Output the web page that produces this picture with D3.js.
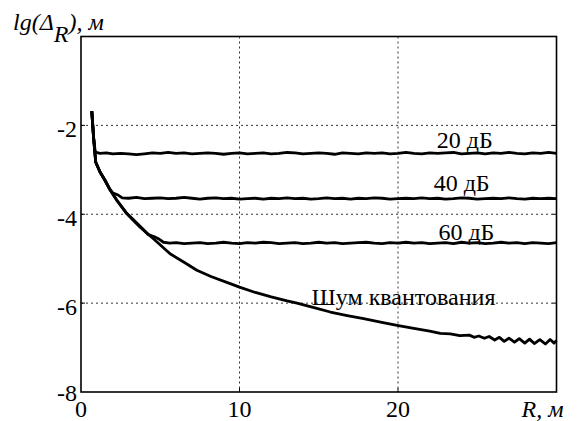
<!DOCTYPE html>
<html>
<head>
<meta charset="utf-8">
<script src="https://cdn.jsdelivr.net/npm/d3@7"></script>
</head>
<body style="margin:0">
<svg id="fig" width="579" height="421"></svg>
<script>
// ---- data ----
const xTicks = [0, 10, 20];
const yTicks = [-2, -4, -6, -8];
const xTickLabels = ["0", "10", "20"];
const yTickLabels = ["-2", "-4", "-6", "-8"];

const quantR  = [0.68, 0.8, 0.93, 1.2, 1.52, 1.83, 2.25, 2.89, 3.73, 4.57, 5.62, 6.5, 7.31, 8.2, 9.41, 10, 11, 12, 13, 13.63, 14.7, 15.73, 16.8, 17.83, 18.9, 19.94, 21, 22, 22.67, 23.3, 23.9, 24.5, 24.8, 25.1, 25.45, 25.75, 26.1, 26.4, 26.7, 27.0, 27.35, 27.65, 28.0, 28.3, 28.6, 28.95, 29.3, 29.6, 29.85, 30];
const quantLg = [-1.68, -2.3, -2.83, -3.05, -3.24, -3.45, -3.68, -3.99, -4.29, -4.55, -4.89, -5.08, -5.26, -5.4, -5.56, -5.64, -5.76, -5.86, -5.95, -6.0, -6.1, -6.2, -6.28, -6.35, -6.43, -6.5, -6.57, -6.63, -6.68, -6.69, -6.73, -6.72, -6.77, -6.74, -6.79, -6.75, -6.83, -6.77, -6.86, -6.79, -6.88, -6.8, -6.9, -6.81, -6.91, -6.82, -6.92, -6.82, -6.9, -6.84];

const db20R  = [0.68, 0.8, 0.9, 1.2, 1.6, 2.0, 2.5, 3.0, 3.5, 4.0, 4.5, 5.0, 5.5, 6.0, 6.5, 7.0, 7.5, 8.0, 8.5, 9.0, 9.5, 10.0, 10.5, 11.0, 11.5, 12.0, 12.5, 13.0, 13.5, 14.0, 14.5, 15.0, 15.5, 16.0, 16.5, 17.0, 17.5, 18.0, 18.5, 19.0, 19.5, 20.0, 20.5, 21.0, 21.5, 22.0, 22.5, 23.0, 23.5, 24.0, 24.5, 25.0, 25.5, 26.0, 26.5, 27.0, 27.5, 28.0, 28.5, 29.0, 29.5, 30.0];
const db20Lg = [-1.68, -2.3, -2.6, -2.63, -2.62, -2.64, -2.63, -2.64, -2.66, -2.64, -2.62, -2.63, -2.61, -2.63, -2.62, -2.64, -2.63, -2.62, -2.63, -2.65, -2.63, -2.62, -2.64, -2.63, -2.62, -2.64, -2.63, -2.61, -2.62, -2.64, -2.63, -2.62, -2.63, -2.65, -2.62, -2.63, -2.64, -2.62, -2.63, -2.62, -2.64, -2.63, -2.61, -2.63, -2.64, -2.62, -2.63, -2.62, -2.61, -2.64, -2.63, -2.62, -2.64, -2.62, -2.63, -2.61, -2.63, -2.64, -2.62, -2.63, -2.61, -2.63];

const db40R  = [0.68, 0.8, 0.93, 1.2, 1.52, 1.83, 2.0, 2.3, 2.6, 3.0, 3.5, 4.0, 4.5, 5.0, 5.5, 6.0, 6.5, 7.0, 7.5, 8.0, 8.5, 9.0, 9.5, 10.0, 10.5, 11.0, 11.5, 12.0, 12.5, 13.0, 13.5, 14.0, 14.5, 15.0, 15.5, 16.0, 16.5, 17.0, 17.5, 18.0, 18.5, 19.0, 19.5, 20.0, 20.5, 21.0, 21.5, 22.0, 22.5, 23.0, 23.5, 24.0, 24.5, 25.0, 25.5, 26.0, 26.5, 27.0, 27.5, 28.0, 28.5, 29.0, 29.5, 30.0];
const db40Lg = [-1.68, -2.3, -2.83, -3.05, -3.24, -3.44, -3.52, -3.56, -3.63, -3.64, -3.62, -3.65, -3.64, -3.63, -3.65, -3.64, -3.62, -3.64, -3.66, -3.64, -3.63, -3.65, -3.64, -3.66, -3.65, -3.64, -3.66, -3.64, -3.65, -3.63, -3.65, -3.64, -3.66, -3.65, -3.63, -3.65, -3.64, -3.66, -3.64, -3.65, -3.63, -3.64, -3.66, -3.65, -3.64, -3.65, -3.63, -3.65, -3.64, -3.66, -3.65, -3.63, -3.64, -3.66, -3.65, -3.64, -3.65, -3.63, -3.65, -3.66, -3.64, -3.65, -3.64, -3.65];

const db60R  = [0.68, 0.8, 0.93, 1.2, 1.52, 1.83, 2.25, 2.89, 3.73, 4.25, 4.6, 4.88, 5.2, 5.6, 6.0, 6.5, 7.0, 7.5, 8.0, 8.5, 9.0, 9.5, 10.0, 10.5, 11.0, 11.5, 12.0, 12.5, 13.0, 13.5, 14.0, 14.5, 15.0, 15.5, 16.0, 16.5, 17.0, 17.5, 18.0, 18.5, 19.0, 19.5, 20.0, 20.5, 21.0, 21.5, 22.0, 22.5, 23.0, 23.5, 24.0, 24.5, 25.0, 25.5, 26.0, 26.5, 27.0, 27.5, 28.0, 28.5, 29.0, 29.5, 30.0];
const db60Lg = [-1.68, -2.3, -2.83, -3.05, -3.24, -3.45, -3.68, -3.98, -4.27, -4.46, -4.5, -4.55, -4.63, -4.65, -4.64, -4.66, -4.65, -4.64, -4.66, -4.65, -4.63, -4.65, -4.66, -4.64, -4.65, -4.63, -4.64, -4.66, -4.65, -4.64, -4.66, -4.65, -4.63, -4.65, -4.64, -4.66, -4.65, -4.64, -4.63, -4.65, -4.66, -4.64, -4.65, -4.63, -4.65, -4.64, -4.66, -4.65, -4.64, -4.66, -4.63, -4.65, -4.64, -4.66, -4.65, -4.63, -4.65, -4.64, -4.66, -4.64, -4.65, -4.66, -4.64];

const seriesLabels = ["20 дБ", "40 дБ", "60 дБ", "Шум квантования"];
const labelPosR  = [22.45, 22.25, 22.55, 14.55];
const labelPosLg = [-2.52, -3.47, -4.58, -6.04];

// ---- drawing ----
const FONT = "Liberation Serif";
const svg = d3.select("#fig");
const X0 = 81, X1 = 556.5, Y0 = 36.5, Y1 = 392;
const x = d3.scaleLinear().domain([0, 30]).range([X0, X1]);
const y = d3.scaleLinear().domain([-8, 0]).range([Y1, Y0]);

function serif(sel) {
  return sel.attr("font-family", FONT).style("font-family", FONT, "important");
}

// grid
const grid = svg.append("g");
grid.selectAll("line.vx").data(xTicks.filter(d => d > 0)).join("line")
  .attr("x1", d => x(d)).attr("x2", d => x(d)).attr("y1", Y0).attr("y2", Y1)
  .attr("stroke", "#333").attr("stroke-width", 1).attr("stroke-dasharray", "2,3");
grid.selectAll("line.hy").data(yTicks.filter(d => d > -8)).join("line")
  .attr("x1", X0).attr("x2", X1).attr("y1", d => y(d)).attr("y2", d => y(d))
  .attr("stroke", "#333").attr("stroke-width", 1).attr("stroke-dasharray", "2,3");

// tick labels, drawn from the scales
serif(svg.append("g").selectAll("text").data(xTicks).join("text")
  .attr("x", d => x(d)).attr("y", Y1 + 25)
  .attr("text-anchor", "middle").attr("font-size", 24)
  .text((d, i) => xTickLabels[i]));

serif(svg.append("g").selectAll("text").data(yTicks).join("text")
  .attr("x", X0 - 4).attr("y", d => y(d) + (d === -8 ? 9 : 12))
  .attr("text-anchor", "end").attr("font-size", 24)
  .text((d, i) => yTickLabels[i]));

// frame
svg.append("rect").attr("x", X0).attr("y", Y0).attr("width", X1 - X0).attr("height", Y1 - Y0)
  .attr("fill", "none").attr("stroke", "#000").attr("stroke-width", 1.6);

// small inward tick marks
const tk = svg.append("g").attr("stroke", "#000").attr("stroke-width", 1);
tk.selectAll("line.tl").data(yTicks.filter(d => d > -8)).join("line")
  .attr("x1", X0).attr("x2", X0 + 4).attr("y1", d => y(d)).attr("y2", d => y(d));
tk.selectAll("line.tr").data(yTicks.filter(d => d > -8)).join("line")
  .attr("x1", X1).attr("x2", X1 - 4).attr("y1", d => y(d)).attr("y2", d => y(d));
tk.selectAll("line.tb").data(xTicks.filter(d => d > 0)).join("line")
  .attr("x1", d => x(d)).attr("x2", d => x(d)).attr("y1", Y1).attr("y2", Y1 - 4);

// curves
const line = d3.line().x(d => x(d[0])).y(d => y(d[1])).curve(d3.curveLinear);
const series = [
  [db20R, db20Lg], [db40R, db40Lg], [db60R, db60Lg], [quantR, quantLg]
];
const plot = svg.append("g");
series.forEach(([rs, ls]) => {
  const pts = rs.map((r, i) => [r, ls[i]]);
  plot.append("path").datum(pts).attr("d", line)
    .attr("fill", "none").attr("stroke", "#000").attr("stroke-width", 2.8)
    .attr("stroke-linejoin", "round").attr("stroke-linecap", "butt");
});

// series labels
serif(svg.append("g").selectAll("text").data(seriesLabels).join("text")
  .attr("x", (d, i) => x(labelPosR[i]))
  .attr("y", (d, i) => y(labelPosLg[i]))
  .attr("font-size", 24)
  .text(d => d));

// axis titles
const yt = serif(svg.append("text").attr("x", 13).attr("y", 30).attr("font-size", 24)
  .attr("font-style", "italic"));
yt.append("tspan").text("lg(Δ");
yt.append("tspan").attr("dy", 12).text("R");
yt.append("tspan").attr("dy", -12).text("), м");

serif(svg.append("text").attr("x", 521.5).attr("y", 417).attr("font-size", 24)
  .attr("font-style", "italic").text("R, м"));
</script>
</body>
</html>
